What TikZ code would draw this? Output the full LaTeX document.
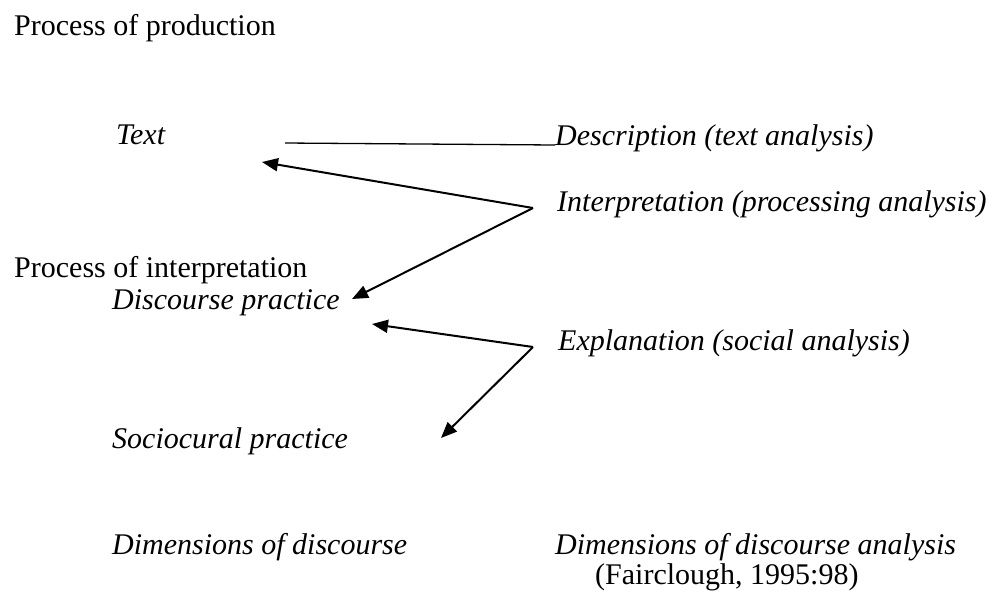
\documentclass[tikz,border=0pt]{standalone}
\usepackage{fontspec}
\setmainfont{Liberation Serif}
\usetikzlibrary{arrows.meta}
\begin{document}
\begin{tikzpicture}[x=1pt,y=-1pt,
  lbl/.style={anchor=base west,inner sep=0pt,font=\fontsize{30}{36}\selectfont},
  ilbl/.style={lbl,font=\fontsize{30}{36}\selectfont\itshape},
  arr/.style={line width=2pt,-{Triangle[length=16pt,width=13pt]}}]
\useasboundingbox[fill=white] (0,0) rectangle (995,598);
\node[lbl] (prod) at (14,35) {Process of production};
\node[ilbl] (text) at (116,144) {Text};
\node[ilbl] (desc) at (555,145) {Description (text analysis)};
\node[ilbl] (interp) at (557,211) {Interpretation (processing analysis)};
\node[lbl] (pinterp) at (14,277) {Process of interpretation};
\node[ilbl] (disc) at (112,309) {Discourse practice};
\node[ilbl] (expl) at (558,350) {Explanation (social analysis)};
\node[ilbl] (socio) at (112,448) {Sociocural practice};
\node[ilbl] (dimd) at (112,554) {Dimensions of discourse};
\node[ilbl] (dimda) at (555,554) {Dimensions of discourse analysis};
\node[lbl] (fair) at (595,584) {(Fairclough, 1995:98)};
\coordinate (ls) at (285,143);
\coordinate (v1) at (533,208);
\coordinate (h1) at (262,162);
\coordinate (h2) at (352,299);
\coordinate (v2) at (533,347);
\coordinate (h3) at (372,324);
\coordinate (h4) at (441,438);
\draw[line width=1.3pt] (ls) -- (desc.base west);
\draw[arr] (v1) -- (h1);
\draw[arr] (v1) -- (h2);
\draw[arr] (v2) -- (h3);
\draw[arr] (v2) -- (h4);
\end{tikzpicture}
\end{document}
